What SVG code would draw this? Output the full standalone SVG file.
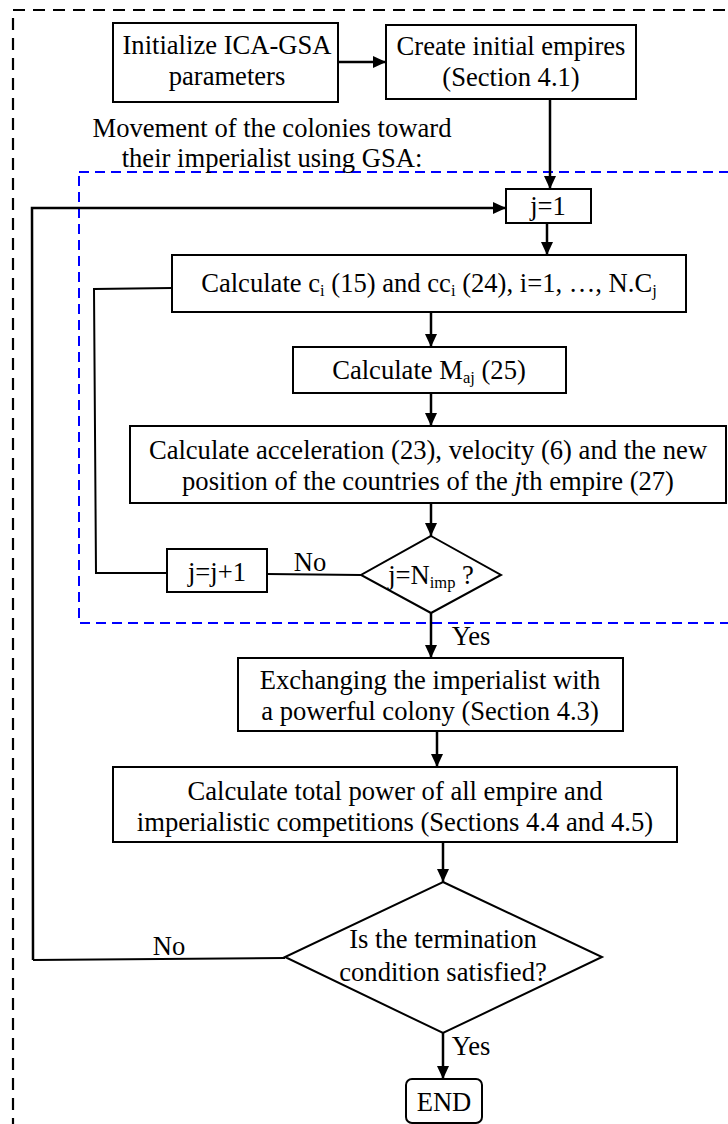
<svg xmlns="http://www.w3.org/2000/svg" width="728" height="1124" viewBox="0 0 728 1124">
<style>
text{font-family:'Liberation Serif','Tinos','Times New Roman','DejaVu Serif',serif;font-size:26.6px;fill:#000;text-anchor:middle}
.sub{font-size:16.5px}
.box{fill:#fff;stroke:#000;stroke-width:2}
.ln{fill:none;stroke:#000;stroke-width:2}
.arr{fill:none;stroke:#000;stroke-width:2.5;marker-end:url(#ah)}
</style>
<defs>
<marker id="ah" markerWidth="14" markerHeight="14" refX="13" refY="6" orient="auto" markerUnits="userSpaceOnUse">
<path d="M0,0 L13,6 L0,12 Z" fill="#000"/>
</marker>
</defs>
<rect width="728" height="1124" fill="#fff"/>
<rect id="outer" x="13" y="10" width="760" height="1140" fill="none" stroke="#000" stroke-width="2.2" stroke-dasharray="12 8"/>
<rect id="inner" x="79" y="172" width="700" height="451" fill="none" stroke="#0000ff" stroke-width="2" stroke-dasharray="10 6"/>
<g font-family="Liberation Serif, Times New Roman, serif">
<text x="272" y="137">Movement of the colonies toward</text>
<text x="272" y="167">their imperialist using GSA:</text>
<g id="connectors">
<line class="arr" x1="338" y1="62" x2="386" y2="62"/>
<line class="arr" x1="550" y1="99" x2="550" y2="189"/>
<polyline class="arr" points="33,960 32,208 506,208"/>
<line class="arr" x1="547" y1="223" x2="547" y2="255"/>
<polyline class="ln" points="172,288 94,289 96,573 167,573"/>
<line class="arr" x1="431" y1="312" x2="431" y2="347"/>
<line class="arr" x1="431" y1="393" x2="431" y2="426"/>
<line class="arr" x1="431" y1="503" x2="431" y2="536"/>
<line class="ln" x1="361" y1="575" x2="267" y2="574"/>
<line class="arr" x1="431" y1="613" x2="431" y2="658"/>
<line class="arr" x1="437" y1="731" x2="437" y2="767"/>
<line class="arr" x1="443" y1="842" x2="443" y2="882"/>
<line class="ln" x1="285" y1="958" x2="33" y2="960"/>
<line class="arr" x1="443" y1="1033" x2="443" y2="1079"/>
<text x="310" y="571">No</text>
<text x="471" y="645">Yes</text>
<text x="169" y="955">No</text>
<text x="471" y="1055">Yes</text>
</g>
<g id="init">
<rect class="box" x="113" y="23" width="225" height="79"/>
<text x="227" y="54">Initialize ICA-GSA</text>
<text x="227" y="85">parameters</text>
</g>
<g id="create">
<rect class="box" x="386" y="25" width="250" height="74"/>
<text x="511" y="55">Create initial empires</text>
<text x="511" y="86">(Section 4.1)</text>
</g>
<g id="j1">
<rect class="box" x="506" y="189" width="85" height="34"/>
<text x="548" y="215">j=1</text>
</g>
<g id="calc-c">
<rect class="box" x="172" y="255" width="514" height="57"/>
<text x="429" y="292">Calculate c<tspan class="sub" dy="4">i</tspan><tspan dy="-4"> (15) and cc</tspan><tspan class="sub" dy="4">i</tspan><tspan dy="-4"> (24), i=1, …, N.C</tspan><tspan class="sub" dy="4">j</tspan></text>
</g>
<g id="calc-m">
<rect class="box" x="293" y="347" width="273" height="46"/>
<text x="429" y="379">Calculate M<tspan class="sub" dy="4">aj</tspan><tspan dy="-4"> (25)</tspan></text>
</g>
<g id="calc-acc">
<rect class="box" x="130" y="426" width="596" height="77"/>
<text x="428" y="459">Calculate acceleration (23), velocity (6) and the new</text>
<text x="428" y="490">position of the countries of the <tspan font-style="italic">j</tspan>th empire (27)</text>
</g>
<g id="dec-j">
<polygon class="box" points="431,536 501,575 431,613 361,575"/>
<text x="431" y="584">j=N<tspan class="sub" dy="4">imp</tspan><tspan dy="-4"> ?</tspan></text>
</g>
<g id="jinc">
<rect class="box" x="167" y="549" width="100" height="43"/>
<text x="217" y="581">j=j+1</text>
</g>
<g id="exchange">
<rect class="box" x="238" y="658" width="385" height="73"/>
<text x="430" y="689">Exchanging the imperialist with</text>
<text x="430" y="720">a powerful colony (Section 4.3)</text>
</g>
<g id="total">
<rect class="box" x="113" y="767" width="564" height="75"/>
<text x="395" y="800">Calculate total power of all empire and</text>
<text x="395" y="831">imperialistic competitions (Sections 4.4 and 4.5)</text>
</g>
<g id="dec-term">
<polygon class="box" points="443,882 602,957 443,1033 285,957"/>
<text x="443" y="948">Is the termination</text>
<text x="443" y="981">condition satisfied?</text>
</g>
<g id="end">
<rect class="box" x="406" y="1079" width="76" height="44" rx="6"/>
<text x="444" y="1111">END</text>
</g>
</g>
</svg>
